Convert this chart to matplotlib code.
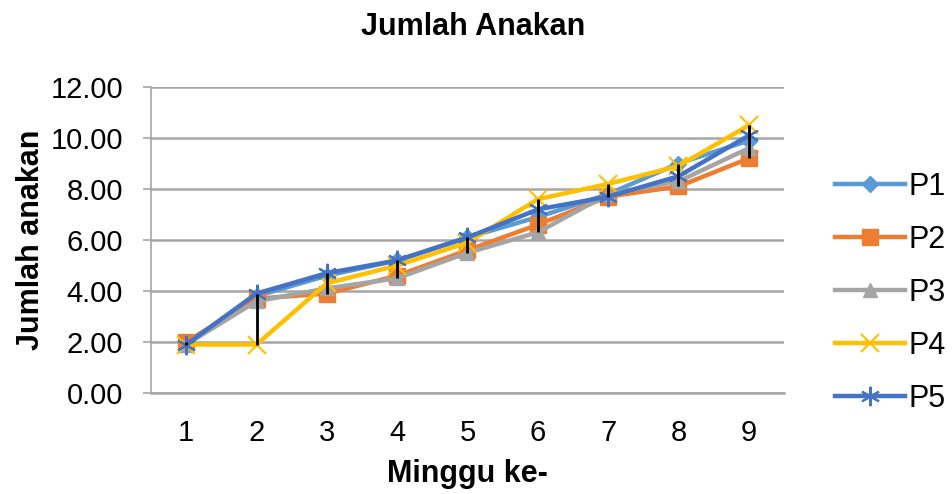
import matplotlib
matplotlib.use("Agg")
import matplotlib.pyplot as plt
import numpy as np

plt.rcParams['font.family'] = ['Liberation Sans', 'DejaVu Sans']

weeks = [1, 2, 3, 4, 5, 6, 7, 8, 9]
series_names = ["P1", "P2", "P3", "P4", "P5"]
p1 = [1.9, 3.8, 4.6, 5.2, 6.1, 6.9, 7.8, 9.0, 9.9]
p2 = [2.0, 3.7, 3.9, 4.6, 5.6, 6.6, 7.7, 8.1, 9.2]
p3 = [1.9, 3.6, 4.1, 4.5, 5.5, 6.3, 7.8, 8.3, 9.6]
p4 = [1.9, 1.9, 4.3, 5.0, 5.9, 7.6, 8.2, 8.9, 10.5]
p5 = [1.9, 3.9, 4.7, 5.2, 6.1, 7.2, 7.7, 8.5, 10.1]
yticks = [0, 2, 4, 6, 8, 10, 12]

colors = ["#5B9BD5", "#ED7D31", "#A5A5A5", "#FFC000", "#4472C4"]
markers = ["D", "s", "^", "x", (6, 2, 0)]
msizes = [8, 11, 10, 13, 14]

fig = plt.figure(figsize=(9.53, 4.94), dpi=100)
ax = fig.add_axes([151/953, 1-393/494, (784-151)/953, (393-87)/494])

data = [p1, p2, p3, p4, p5]
for name, vals, c, m, ms in zip(series_names, data, colors, markers, msizes):
    mew = 1.5 if m in ("x", (6, 2, 0)) else 1
    ax.plot(weeks, vals, color=c, lw=3.2, marker=m, ms=ms, mec=c, mfc=c,
            mew=mew, label=name, zorder=3)

arr = np.array(data)
ax.vlines(weeks, arr.min(axis=0), arr.max(axis=0), color="black", lw=2, zorder=5)

ax.set_xlim(0.5, 9.5)
ax.set_ylim(0, 12)
ax.set_yticks(yticks)
ax.set_yticklabels([f"{v:.2f}" for v in yticks])
ax.set_xticks(weeks)
ax.grid(axis='y', color="#A6A6A6", lw=1.8)
ax.set_axisbelow(True)
for s in ["top", "right"]:
    ax.spines[s].set_visible(False)
ax.spines["left"].set_color("#A6A6A6")
ax.spines["left"].set_linewidth(1.2)
ax.spines["bottom"].set_color("#A6A6A6")
ax.spines["bottom"].set_linewidth(1.8)
ax.tick_params(axis='x', length=0, labelsize=21, pad=19)
ax.tick_params(axis='y', length=6, width=1.2, color="#A6A6A6",
               labelsize=21, pad=14)

ax.set_ylabel("Jumlah anakan", fontsize=22, fontweight="bold", labelpad=3)
ax.set_xlabel("Minggu ke-", fontsize=22, fontweight="bold", labelpad=8)
fig.text(473/953, 1-27/494, "Jumlah Anakan", ha="center", va="center",
         fontsize=22, fontweight="bold")

ax.legend(loc="upper left", bbox_to_anchor=(835/953, 1-172/494),
          bbox_transform=fig.transFigure, frameon=False, fontsize=22,
          handlelength=2.3, handletextpad=0.1, labelspacing=0.75,
          borderpad=0, borderaxespad=0)

fig.savefig("out.png", dpi=100)
